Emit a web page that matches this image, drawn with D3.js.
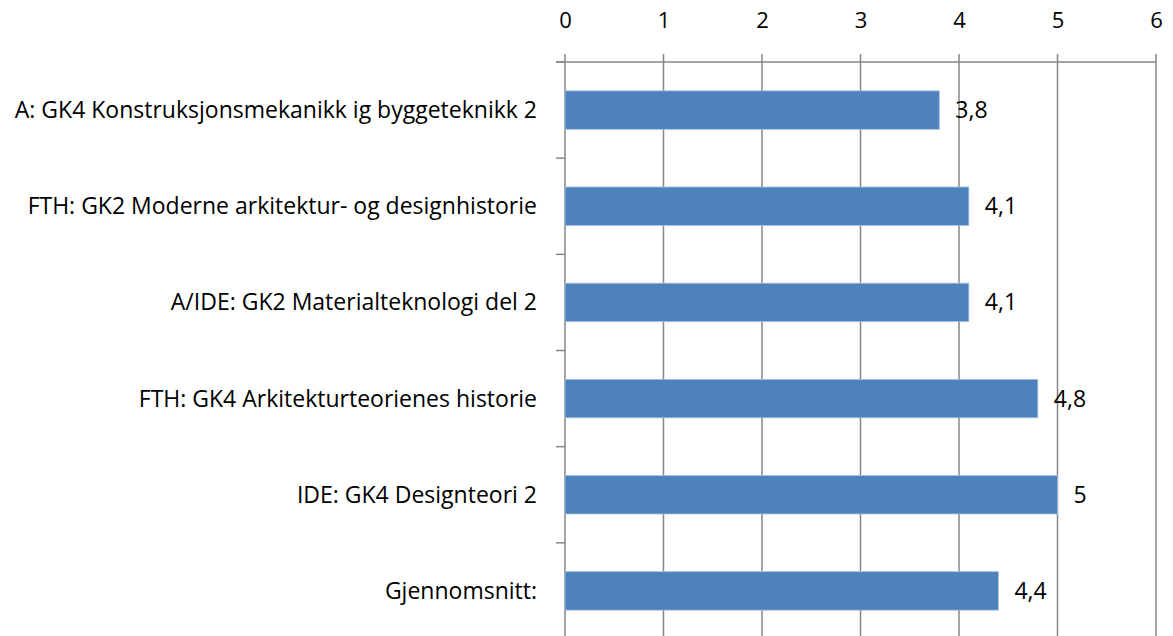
<!DOCTYPE html>
<html>
<head>
<meta charset="utf-8">
<script src="https://cdn.jsdelivr.net/npm/d3@7"></script>
<style>
  body { margin: 0; background: #fff; }
  svg text { font-family: "Open Sans", "Noto Sans", sans-serif; fill: #000; }
</style>
</head>
<body>
<div id="chart"></div>
<script>
const categories = [
  'A: GK4 Konstruksjonsmekanikk ig byggeteknikk 2',
  'FTH: GK2 Moderne arkitektur- og designhistorie',
  'A/IDE: GK2 Materialteknologi del 2',
  'FTH: GK4 Arkitekturteorienes historie',
  'IDE: GK4 Designteori 2',
  'Gjennomsnitt:'
];
const values = [3.8, 4.1, 4.1, 4.8, 5, 4.4];
const labels = ['3,8', '4,1', '4,1', '4,8', '5', '4,4'];
const ticks = [0, 1, 2, 3, 4, 5, 6];

const width = 1173;
const height = 636;
let [mt, mr, mb, ml] = [62, 17, -3, 565];

const svg = d3.select('#chart')
  .append('svg')
  .attr('width', width)
  .attr('height', height)
  .attr('viewBox', [0, 0, width, height])

const graphWidth = width - ml - mr;
const graphHeight = height - mt - mb;

const graph = svg.append('g')
  .attr('transform', `translate(${ml},${mt})`)

const x = d3.scaleLinear()
  .domain([0, 6])
  .range([0, graphWidth])

const y = d3.scaleBand()
  .domain(categories)
  .range([0, graphHeight])
  .paddingInner(0.6)
  .paddingOuter(0.3)

const gridColor = '#868686';

// gridlines, sticking up past the axis like tick marks
graph.append('g')
  .selectAll('line')
  .data(ticks)
  .enter()
  .append('line')
  .attr('x1', d => x(d))
  .attr('x2', d => x(d))
  .attr('y1', -8)
  .attr('y2', graphHeight)
  .attr('stroke', gridColor)
  .attr('stroke-width', 1.5)

// top axis
const xAxisG = graph.append('g')
xAxisG.call(d3.axisTop(x).tickValues(ticks).tickSize(0).tickPadding(34).tickFormat(d3.format('d')))
xAxisG.select('.domain').remove()
xAxisG.selectAll('text').style('font-size', '22px')

xAxisG.append('line')
  .attr('x1', -9)
  .attr('x2', x(6))
  .attr('y1', 0)
  .attr('y2', 0)
  .attr('stroke', gridColor)
  .attr('stroke-width', 1.5)

// left axis ticks between categories
const step = y.step();
const bounds = d3.range(categories.length + 1).map(i => y(categories[0]) - y.paddingOuter() * step + i * step);
graph.append('g')
  .selectAll('line')
  .data(bounds)
  .enter()
  .append('line')
  .attr('x1', -9)
  .attr('x2', 0)
  .attr('y1', d => d)
  .attr('y2', d => d)
  .attr('stroke', gridColor)
  .attr('stroke-width', 1.5)

// category labels
graph.append('g')
  .selectAll('text')
  .data(categories)
  .enter()
  .append('text')
  .attr('x', -28)
  .attr('y', d => y(d) + y.bandwidth() / 2)
  .attr('dy', '0.35em')
  .attr('text-anchor', 'end')
  .style('font-size', '23px')
  .text(d => d)

// bars
graph.append('g')
  .selectAll('rect')
  .data(values)
  .enter()
  .append('rect')
  .attr('x', x(0))
  .attr('y', (d, i) => y(categories[i]))
  .attr('width', d => x(d) - x(0))
  .attr('height', y.bandwidth())
  .attr('fill', '#4F81BD')
  .attr('stroke', '#A7C0DE')
  .attr('stroke-width', 0.8)

// value labels
graph.append('g')
  .selectAll('text')
  .data(values)
  .enter()
  .append('text')
  .attr('x', d => x(d) + 16)
  .attr('y', (d, i) => y(categories[i]) + y.bandwidth() / 2)
  .attr('dy', '0.35em')
  .style('font-size', '23px')
  .text((d, i) => labels[i])
</script>
</body>
</html>
